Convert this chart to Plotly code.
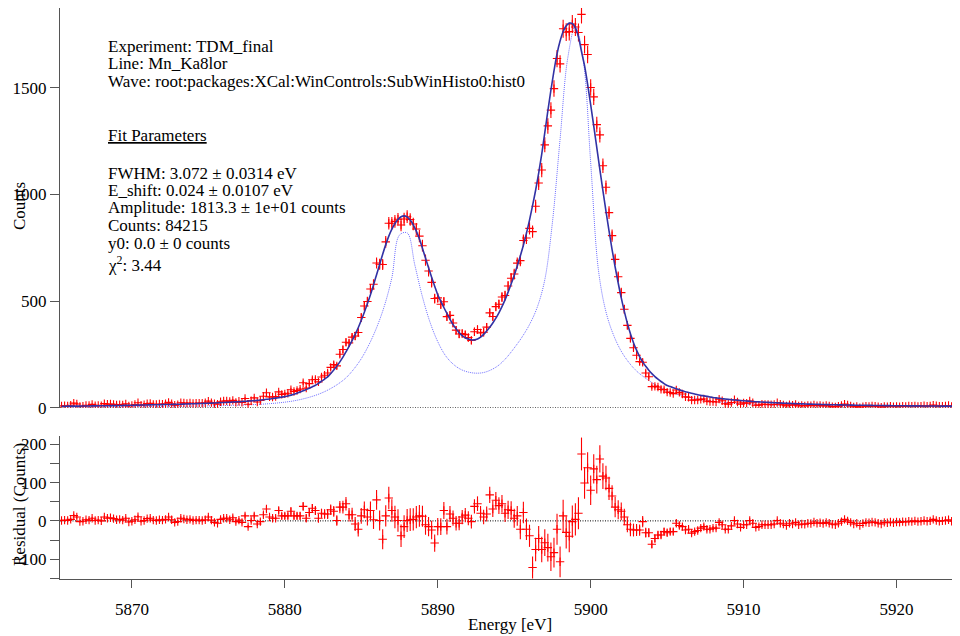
import numpy as np
import plotly.graph_objects as go

# ---------------- data ----------------
bin_start = 5865.4      # eV, first bin centre
bin_width = 0.2         # eV

# fitted model (counts per bin) at every bin
fit_counts = [
    7.0, 7.1, 7.2, 7.3, 7.4, 7.5, 7.6, 7.8, 8.0, 8.2,
    8.4, 8.6, 8.8, 9.0, 9.2, 9.4, 9.6, 9.8, 10.0, 10.3,
    10.6, 10.9, 11.2, 11.5, 11.8, 12.1, 12.4, 12.7, 13.0, 13.3,
    13.6, 13.9, 14.2, 14.5, 14.8, 15.1, 15.4, 15.7, 16.0, 16.5,
    17.0, 17.5, 18.0, 18.5, 19.0, 19.5, 20.0, 20.5, 21.0, 21.6,
    22.3, 23.0, 23.7, 24.4, 25.1, 25.8, 26.5, 27.2, 28.0,
    29.0, 30.0, 31.0, 32.0, 33.0, 34.5, 36.0, 37.6, 39.3, 41.0,
    43.0, 45.0, 47.2, 49.5, 52.0, 55, 59, 63, 68, 74,
    79, 85, 91, 98, 105, 114, 124, 134, 145, 160,
    177, 195, 215, 237, 262, 288, 315, 344, 375, 410,
    448, 488, 530, 576, 624, 672, 720, 765, 805, 838,
    864, 883, 896, 900, 895, 880, 858, 828, 792,
    748, 702, 656, 612, 570, 530, 500, 470, 442, 415,
    390, 370, 352, 338, 328, 322, 318, 318, 322, 331,
    344, 360, 377, 397, 420, 445, 474, 506, 542, 580,
    620, 665, 712, 762, 818, 880, 948, 1020, 1100, 1190,
    1290, 1392, 1490, 1580, 1660, 1720, 1765, 1792, 1804, 1802,
    1782, 1740, 1670, 1604, 1518, 1422, 1322, 1220, 1118, 1018,
    922, 830, 742, 660, 585, 515, 452, 396, 347, 305,
    270, 240, 215, 194, 176, 160, 146, 134, 123, 113,
    104, 99, 94, 89, 84, 79, 75, 71, 67.5, 64,
    61, 58, 55.5, 53, 50.5, 48, 46, 44, 42.3, 40.6,
    39, 37.6, 36.2, 34.9, 33.6, 32.4, 31.3, 30.2, 29.2, 28.2,
    27.3, 26.4, 25.6, 24.8, 24.0, 23.3, 22.6, 21.9, 21.3,
    20.7, 20.1, 19.5, 19.0, 18.5, 18.0, 17.5, 17.0, 16.6, 16.2,
    15.8, 15.4, 15.0, 14.6, 14.3, 14.0, 13.7, 13.4, 13.1, 12.8,
    12.5, 12.2, 11.9, 11.7, 11.5, 11.3, 11.1, 10.9, 10.7, 10.5,
    10.3, 10.1, 9.9, 9.7, 9.5, 9.4, 9.3, 9.1, 9.0, 8.9,
    8.7, 8.6, 8.5, 8.4, 8.3, 8.2, 8.1, 8.0, 7.9, 7.8,
    7.7, 7.6, 7.5, 7.4, 7.3, 7.2, 7.1,
]

# residual (data - fit), counts per bin
residual_counts = [
    1, 2, 1, 4, 14, 10, -2, -1, 3, 2,
    7, 1, 2, 0, 10, 7, 8, 6, 3, 4,
    2, 7, -3, -1, 3, 11, -1, 1, 6, 7,
    2, 1, 3, 2, 4, 10, 3, -4, -2, 7,
    5, 3, 4, 1, 2, 2, 1, 3, 10, 2,
    -4, -6, 4, 7, 7, 3, 8, -2, 2,
    -4, 13, -15, 1, 13, -8, -2, 16, 31, 10,
    7, 7, 27, 13, 13, 13, 25, 13, 13, 13,
    38, 7, 22, 33, 27, 7, 20, 18, 18, 29,
    25, 1, 36, 36, 45, 16, 16, -8, -22, 13,
    29, 10, 27, 3, 55, 1, -48, 13, 60, 27,
    10, 1, -39, -15, 1, 3, 4, 10, 13,
    12, -10, -15, -24, -58, -15, -15, 27, -15, 18,
    7, -6, -6, 10, 15, 7, -2, 38, 45, 20,
    10, 18, 68, 31, 54, 40, 45, 20, 29, 27,
    7, 13, -22, 22, -22, -39, -122, -75, -46, -75,
    -57, -70, -94, -83, -22, -107, 13, -30, -40, -2,
    4, 20, 175, 99, 139, 80, 136, 108, 162, 117,
    112, 85, 65, 36, 29, 25, 10, -10, -22, -24,
    -24, -24, -2, -31, -31, -61, -46, -37, -37, -28,
    -31, -28, -28, -6, -12, -15, -24, -22, -32, -28,
    -25, -19, -15, -22, -22, -19, -19, -4, -10, -22,
    -22, -13, 1, -8, -17, -10, -10, 1, -6, -17,
    -15, -10, -10, -10, -10, -8, 1, -6, -8,
    -12, -6, -8, -4, -10, -8, -9, -6, -7, -3,
    -6, -5, -7, -4, -6, -9, -10, -6, -2, 4,
    0, -4, -8, -6, -12, -7, -4, -5, -3, -4,
    -6, -8, -4, -5, -3, -5, -3, -4, -2, -3,
    -1, -2, 0, -2, -1, 1, -1, 0, 4, 1,
    -1, 0, 1, 3, -1, 1, 2,
]

# intrinsic line shape (dotted), sampled every 0.5 eV
line_start = 5865.5
line_step = 0.5
line_counts = [
    3, 3, 3, 3.5, 3.5, 4, 4, 4.5, 4.5, 5,
    5, 5.5, 6, 6, 6.5, 7, 7, 7.5, 8, 8.5,
    9, 10, 11, 12, 13, 14.5, 16.5, 19, 22, 26,
    31, 38, 47, 58, 72, 90, 112, 140, 180, 230,
    295, 375, 475, 610, 810, 820, 670, 520, 400, 310,
    245, 205, 180, 167, 162, 165, 178, 200, 235, 280,
    330, 390, 470, 600, 870, 1260, 1640, 1790, 1640, 1150,
    650, 450, 340, 265, 212, 172, 143, 118, 96, 79,
    66, 56, 48, 41, 35, 30, 26, 23, 20, 18,
    16, 14.5, 13, 12, 11, 10, 9.5, 9, 8.5, 8,
    7.5, 7, 6.5, 6.2, 6, 5.7, 5.4, 5.2, 5, 4.8,
    4.6, 4.4, 4.2, 4, 3.9, 3.8, 3.7, 3.6,
]

x_ticks = [5870, 5880, 5890, 5900, 5910, 5920]
y_ticks_top = [0, 500, 1000, 1500]
y_ticks_res = [-100, 0, 100, 200]

info_lines = [
    "Experiment: TDM_final",
    "Line: Mn_Ka8lor",
    "Wave: root:packages:XCal:WinControls:SubWinHisto0:hist0",
    "<u>Fit Parameters</u>",
    "FWHM: 3.072 ± 0.0314 eV",
    "E_shift: 0.024 ± 0.0107 eV",
    "Amplitude: 1813.3 ± 1e+01 counts",
    "Counts: 84215",
    "y0: 0.0 ± 0 counts",
    "χ<sup>2</sup>: 3.44",
]

# ---------------- derived ----------------
fit_arr = np.array(fit_counts, dtype=float)
res_arr = np.array(residual_counts, dtype=float)
energy = bin_start + bin_width * np.arange(len(fit_arr))
data_arr = fit_arr + res_arr
err_arr = np.sqrt(np.clip(data_arr, 1, None))
line_energy = line_start + line_step * np.arange(len(line_counts))

# ---------------- layout geometry (pixels) ----------------
# the page body adds an 8 px offset, so the figure is 952x628 placed at (8, 8)
OFF = 8
W, H = 960 - OFF, 636 - OFF
ML, MR, MT, MB = 60 - OFF, 0, 8 - OFF, 57
PW, PH = W - ML - MR, H - MT - MB


def px_x(x):
    return (x - OFF - ML) / PW


def px_y(y):
    return (H - MB - (y - OFF)) / PH


FONT = "Liberation Serif"
RED = "rgb(255,0,0)"
FITC = "rgb(50,50,165)"
DOTC = "rgb(110,110,255)"
AXC = "#555555"

fig = go.Figure()

fig.add_trace(go.Scatter(
    x=line_energy, y=line_counts, mode="lines", xaxis="x", yaxis="y",
    line=dict(color=DOTC, width=1, dash="1px,1px", shape="spline"),
    showlegend=False, hoverinfo="skip"))

marker = dict(symbol="cross-thin", size=6, color=RED, line=dict(color=RED, width=1.1))

fig.add_trace(go.Scatter(
    x=energy, y=data_arr, mode="markers", xaxis="x", yaxis="y",
    marker=marker,
    error_y=dict(type="data", array=err_arr, color=RED, thickness=1.1, width=0),
    showlegend=False))

fig.add_trace(go.Scatter(
    x=energy, y=fit_arr, mode="lines", xaxis="x", yaxis="y",
    line=dict(color=FITC, width=1.6, shape="spline"),
    showlegend=False))

fig.add_trace(go.Scatter(
    x=energy, y=res_arr, mode="markers", xaxis="x", yaxis="y2",
    marker=marker,
    error_y=dict(type="data", array=err_arr, color=RED, thickness=1.1, width=0),
    showlegend=False))

tickfont = dict(family=FONT, size=17, color="black")

fig.update_layout(
    width=W, height=H,
    margin=dict(l=ML, r=MR, t=MT, b=MB, autoexpand=False),
    paper_bgcolor="white", plot_bgcolor="white",
    font=dict(family=FONT, size=17, color="black"),
    xaxis=dict(
        domain=[0, 1], anchor="y2", range=[5865.3, 5924.15],
        tickvals=x_ticks, ticks="outside", ticklen=8, tickwidth=1.3,
        tickcolor=AXC, showline=True, linecolor=AXC, linewidth=1.3,
        showgrid=False, zeroline=False, tickfont=tickfont, ticklabelstandoff=6,
        title=dict(text="Energy [eV]", font=dict(family=FONT, size=17), standoff=0),
    ),
    yaxis=dict(
        domain=[px_y(407.7), 1.0], anchor="x", range=[0, 1875],
        tickvals=y_ticks_top, ticks="outside", ticklen=9, tickwidth=1.3,
        tickcolor=AXC, showline=True, linecolor=AXC, linewidth=1.3,
        showgrid=False, zeroline=False, tickfont=tickfont,
    ),
    yaxis2=dict(
        domain=[0, px_y(436)], anchor="x", range=[-152, 222],
        tickvals=y_ticks_res, ticks="outside", ticklen=9, tickwidth=1.3,
        tickcolor=AXC, showline=True, linecolor=AXC, linewidth=1.3,
        minor=dict(dtick=50, ticks="outside", ticklen=9, tickcolor=AXC, tickwidth=1.3),
        showgrid=False, zeroline=False, tickfont=tickfont,
    ),
)

for yref in ("y", "y2"):
    fig.add_shape(type="line", xref="paper", x0=0, x1=1, yref=yref, y0=0, y1=0,
                  line=dict(color="black", width=1, dash="1px,1.5px"), layer="below")

# info text block
line_y = [46.5, 63.5, 81, 135, 173, 190.5, 208, 225.5, 243, 264]
for txt, yy in zip(info_lines, line_y):
    fig.add_annotation(text=txt, xref="paper", yref="paper", x=px_x(106), y=px_y(yy),
                       xanchor="left", yanchor="middle", showarrow=False,
                       font=dict(family=FONT, size=17, color="black"))

# y-axis titles (overlapping the tick labels as in the reference)
fig.add_annotation(text="Counts", xref="paper", yref="paper", x=px_x(19), y=px_y(206),
                   xanchor="center", yanchor="middle", textangle=-90, showarrow=False,
                   font=dict(family=FONT, size=17, color="black"))
fig.add_annotation(text="Residual (Counts)", xref="paper", yref="paper", x=px_x(19), y=px_y(505),
                   xanchor="center", yanchor="middle", textangle=-90, showarrow=False,
                   font=dict(family=FONT, size=17, color="black"))

fig.write_html("out.html")
